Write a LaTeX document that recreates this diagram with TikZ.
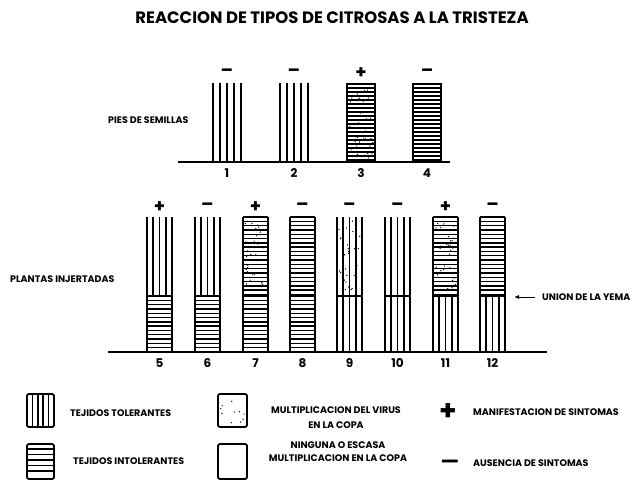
\documentclass[tikz,border=0pt]{standalone}
\usepackage{fontspec}
\setmainfont{Poppins}
\usetikzlibrary{arrows.meta}
\tikzset{
  edge/.style={line width=1.8pt},
  hatch/.style={line width=1.4pt},
  vhatchl/.style={line width=1.7pt},
  lbl/.style={font=\bfseries\fontsize{9.5}{11}\selectfont, inner sep=0pt, anchor=west},
  num/.style={font=\bfseries\fontsize{12}{13}\selectfont, inner sep=0pt},
  sign/.style={font=\bfseries\fontsize{18}{18}\selectfont, inner sep=0pt},
  leg/.style={line width=1.8pt, rounded corners=2pt},
}
% vertical hatching: x1, ytop, ybot (width 25, 5 lines)
\newcommand\partv[3]{%
  \foreach \k in {0,1,...,4} \draw[vhatchl] ({#1+\k*6.25},#2) -- ({#1+\k*6.25},#3);}
% horizontal hatching: x1, ytop, ybot
\newcommand\parth[3]{%
  \draw[edge] (#1,#2) -- (#1,#3) (#1+25,#2) -- (#1+25,#3);
  \pgfmathsetmacro\ysa{#2}\pgfmathsetmacro\ysb{#2+4.3}\pgfmathsetmacro\yse{#3-1}
  \foreach \y in {\ysa,\ysb,...,\yse} \draw[hatch] (#1,\y) -- (#1+25,\y);}
\newcommand\virusdots[5]{% x1 x2 ytop ybot count
  \foreach \k in {1,...,#5}{
    \pgfmathsetmacro\px{#1+2+rnd*(#2-#1-4)}
    \pgfmathsetmacro\py{#3+2+rnd*(#4-#3-4)}
    \fill (\px,\py) circle (0.7);}}
\begin{document}
\begin{tikzpicture}[x=1pt,y=-1pt]
\pgfmathsetseed{7}
\useasboundingbox (0,0) rectangle (637,487);
% title
\node[font=\bfseries\fontsize{16.5}{18}\selectfont, inner sep=0pt] (title) at (332,18) {REACCION DE TIPOS DE CITROSAS A LA TRISTEZA};
% ---------- top row
\node[lbl] (pies) at (108,120) {PIES DE SEMILLAS};
\draw[edge] (178,162) coordinate (ba) -- (450,162) coordinate (bb);
% bar 1, 2
\foreach \x in {213,280}{
  \foreach \k in {0,1,...,4} \draw[vhatchl] ({\x+\k*7},83) -- ({\x+\k*7},162);}
% bar 3, 4
\foreach \x in {347,413}{
  \draw[edge] (\x,83) -- (\x,162) (\x+28,83) -- (\x+28,162);
  \foreach \y in {84,88,...,160} \draw[hatch] (\x,\y) -- (\x+28,\y);}
\virusdots{347}{375}{84}{160}{45}
\foreach \x/\s/\n in {213/–/1,280/–/2,347/+/3,413/–/4}{
  \node[sign] (s\n) at (\x+14,73) {\s};
  \node[num] (n\n) at (\x+14,173) {\n};}
% ---------- bottom row
\node[lbl] (plantas) at (10,279) {PLANTAS INJERTADAS};
\draw[edge] (108,352) coordinate (bc) -- (547,352) coordinate (bd);
\foreach \x/\upp/\low/\d/\s/\n in {147/v/h/0/+/5,195/v/h/0/–/6,243/h/h/1/+/7,290/h/h/0/–/8,337/v/v/1/–/9,385/v/v/0/–/10,433/h/v/1/+/11,480/h/v/0/–/12}{
  \csname part\upp\endcsname{\x}{217}{296}
  \csname part\low\endcsname{\x}{296}{352}
  \draw[hatch] (\x,296) -- (\x+25,296);
  \ifnum\d=1 \virusdots{\x}{\x+25}{218}{294}{35}\fi
  \node[sign] (s\n) at (\x+12.5,207) {\s};
  \node[num] (n\n) at (\x+12.5,363) {\n};}
\node[lbl] (union) at (542,297) {UNION DE LA YEMA};
\coordinate (ua) at (514,297);
\draw[line width=1pt,-{Latex[length=5pt,width=4pt]}] (union.west) ++(-7,0) -- (ua);
% ---------- legend
\draw[leg] (27,394) rectangle (54,427);
\foreach \k in {1,...,4} \draw[vhatchl] ({27+\k*5.4},394) -- ({27+\k*5.4},427);
\draw[leg] (27,444) rectangle (54,479);
\foreach \y in {449,454.5,...,475} \draw[hatch] (27,\y) -- (54,\y);
\draw[leg] (218,394) rectangle (247,427);
\pgfmathsetseed{3}
\virusdots{218}{247}{395}{426}{10}
\draw[leg] (218,444) rectangle (247,479);
\node[lbl] (tol) at (70,413) {TEJIDOS TOLERANTES};
\node[lbl] (intol) at (73,461) {TEJIDOS INTOLERANTES};
\node[lbl, anchor=center, align=center, font=\bfseries\fontsize{9.5}{15}\selectfont] (multi) at (336,418) {MULTIPLICACION DEL VIRUS\\EN LA COPA};
\node[lbl, anchor=center, align=center, font=\bfseries\fontsize{9.5}{13}\selectfont] (ning) at (338,452) {NINGUNA O ESCASA\\MULTIPLICACION EN LA COPA};
\node[font=\bfseries\fontsize{28}{28}\selectfont, inner sep=0pt] (plus) at (448,412) {+};
\node[font=\bfseries\fontsize{20}{20}\selectfont, inner sep=0pt] (minus) at (450,464) {—};
\node[lbl] (mani) at (473,412) {MANIFESTACION DE SINTOMAS};
\node[lbl] (aus) at (473,463) {AUSENCIA DE SINTOMAS};
\end{tikzpicture}
\end{document}
